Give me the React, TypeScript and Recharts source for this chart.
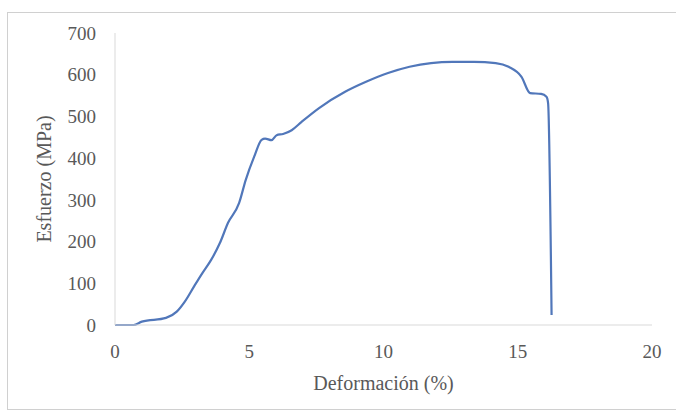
import React from "react";
import { LineChart, Line, XAxis, YAxis } from "recharts";

const strain = [0, 0.69, 1.0, 1.9, 2.3, 2.6, 2.94, 3.26, 3.58, 3.91, 4.21, 4.62, 4.87, 5.18, 5.46, 5.59, 5.83, 6.02, 6.26, 6.58, 6.95, 7.6, 8.57, 9.35, 10.17, 10.97, 11.77, 12.57, 13.37, 14.18, 14.66, 15.14, 15.46, 15.87, 16.07, 16.13, 16.26];
const stress = [0, 0, 8, 17, 32, 56, 92, 125, 156, 197, 245, 292, 348, 403, 444, 447, 443, 455, 458, 467, 487, 520, 559, 583, 604, 619, 628, 631, 631, 628, 619, 595, 556, 554, 547, 532, 24];
const xTicks = [0, 5, 10, 15, 20];
const yTicks = [0, 100, 200, 300, 400, 500, 600, 700];

const data = strain.map((x, i) => ({ x, y: stress[i] }));

const FONT = '"Liberation Serif", "Times New Roman", serif';
const GRAY = "#595959";

export default function App() {
  return (
    <div style={{ position: "fixed", left: 0, top: 0, width: 676, height: 414, overflow: "hidden", background: "#fff" }}>
      <div style={{ position: "absolute", left: 0, top: 0 }}>
        <LineChart width={676} height={414} data={data} margin={{ top: 33, right: 24, bottom: 19, left: 0 }}>
          <XAxis
            dataKey="x"
            type="number"
            domain={[0, 20]}
            ticks={xTicks}
            height={70}
            axisLine={{ stroke: "#d9d9d9", strokeWidth: 1 }}
            tickLine={false}
            tickSize={0}
            tickMargin={20}
            tick={{ fill: GRAY, fontSize: 19, fontFamily: FONT }}
            label={{ value: "Deformación (%)", position: "insideBottom", offset: 5, fill: GRAY, fontSize: 20, fontFamily: FONT }}
          />
          <YAxis
            type="number"
            domain={[0, 700]}
            ticks={yTicks}
            width={115}
            axisLine={{ stroke: "#d9d9d9", strokeWidth: 1 }}
            tickLine={false}
            tickSize={0}
            tickMargin={19}
            tick={{ fill: GRAY, fontSize: 19, fontFamily: FONT }}
            label={{ value: "Esfuerzo (MPa)", angle: -90, position: "insideLeft", offset: 44, fill: GRAY, fontSize: 20, fontFamily: FONT, style: { textAnchor: "middle" } }}
          />
          <Line type="monotone" dataKey="y" stroke="#5177ba" strokeWidth={2.2} dot={false} isAnimationActive={false} />
        </LineChart>
      </div>
      <div style={{ position: "absolute", left: 7, top: 12, width: 700, height: 398, border: "1px solid #d0d0d0", boxSizing: "border-box", pointerEvents: "none" }} />
    </div>
  );
}
